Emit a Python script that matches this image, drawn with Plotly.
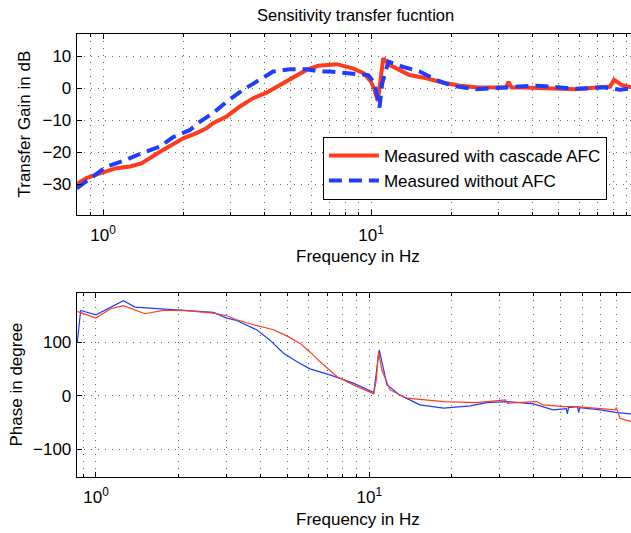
import numpy as np
import plotly.graph_objects as go

# ---- magnitude data (dB) ----
gain_freq_cascade = [0.797, 0.867, 0.972, 1.12, 1.26, 1.39, 1.63, 1.99, 2.23, 2.43, 2.57, 2.89,
                     3.24, 3.63, 4.07, 4.56, 5.12, 5.74, 6.35, 7.43, 8.56, 9.4, 10.0, 10.3, 10.6,
                     10.85, 11.1, 11.7, 13.9, 16.1, 18.6, 21.5, 24.6, 29.4, 31.8, 32.6, 33.4, 36.8,
                     45.0, 58.0, 71.4, 78.0, 80.7, 86.0, 93.5]
gain_cascade = [-29.9, -28.0, -26.5, -24.9, -24.4, -23.4, -19.8, -15.6, -14.0, -12.5, -10.9, -8.8,
                -5.7, -3.1, -1.4, 1.0, 3.6, 5.7, 7.0, 7.5, 6.2, 4.6, 2.0, -0.5, -4.0,
                2.0, 9.3, 7.3, 4.1, 3.1, 1.7, 0.8, 0.3, 0.2, 0.2, 2.0, 0.2, 0.2,
                0.0, -0.3, 0.3, 0.5, 2.6, 1.0, 0.3]

gain_freq_noafc = [0.797, 0.918, 1.03, 1.22, 1.37, 1.63, 1.82, 2.11, 2.3, 2.57, 2.89, 3.33, 3.74,
                   4.31, 4.97, 5.74, 6.43, 7.0, 8.56, 9.75, 10.3, 10.75, 11.0, 11.6, 13.1, 15.2,
                   17.5, 20.2, 24.6, 29.4, 36.8, 41.4, 46.5, 58.2, 65.0, 73.5, 85.0, 93.5]
gain_noafc = [-31.2, -27.5, -24.4, -22.3, -20.5, -18.2, -15.3, -13.0, -10.4, -7.8, -4.2, -0.5, 2.1,
              5.2, 5.9, 5.9, 5.2, 5.2, 4.5, 4.1, 1.6, -6.0, 1.5, 8.3, 6.7, 5.2,
              2.6, 0.7, -0.3, 0.0, 0.3, 0.8, 0.5, -0.2, 0.0, 0.3, -0.5, 0.0]

# ---- phase data (degree) ----
phase_freq_cascade = [0.854, 1.0, 1.125, 1.26, 1.51, 1.76, 2.09, 2.69, 3.01, 3.27, 3.66, 3.98,
                      4.46, 4.99, 5.58, 6.06, 6.59, 7.6, 8.74, 10.38, 10.6, 10.8, 11.1, 11.9,
                      13.7, 18.7, 24.6, 31.5, 32.0, 34.7, 40.9, 43.2, 51.3, 57.4, 70.0, 79.4,
                      80.0, 82.6, 90.6]
phase_cascade = [157.7, 145.3, 162.2, 168.4, 153.4, 159.6, 159.6, 154.7, 149.6, 142.1, 134.6, 129.6,
                 123.4, 112.0, 98.0, 82.0, 64.0, 36.0, 20.4, 3.6, 30.0, 82.8, 48.5, 11.0,
                 -4.5, -10.8, -12.7, -7.7, -14.0, -12.7, -10.8, -17.0, -20.2, -20.2, -23.2, -26.4,
                 -22.0, -42.0, -48.3]

phase_freq_noafc = [0.854, 0.879, 1.0, 1.26, 1.39, 1.81, 2.09, 2.69, 3.01, 3.27, 3.87, 4.33, 4.84,
                    5.42, 6.06, 6.59, 7.17, 8.74, 10.38, 10.87, 11.6, 12.9, 15.3, 18.7, 23.4,
                    26.9, 31.8, 39.9, 47.0, 52.5, 53.0, 53.5, 57.8, 58.3, 58.8, 70.0, 80.5, 90.6]
phase_noafc = [99.6, 159.6, 151.5, 177.7, 165.9, 162.2, 159.6, 155.8, 145.3, 140.8, 123.4, 104.0, 80.0,
               64.0, 50.4, 45.3, 39.1, 23.6, 6.0, 86.0, 20.4, 1.7, -17.0, -23.2, -18.9,
               -12.7, -10.8, -15.2, -26.4, -24.0, -33.9, -22.0, -20.2, -31.4, -22.0, -26.4, -31.4, -33.9]

# ---- axis ticks ----
decade_ticks = [1, 10]
decade_labels = ["10<sup>0</sup>", "10<sup>1</sup>"]
minor_ticks = [0.8, 0.9] + [m * 10 ** e for e in (0, 1) for m in range(2, 10)]
gain_ticks = [-30, -20, -10, 0, 10]
phase_ticks = [-100, 0, 100]

RED = "#ff3b1e"
BLUE = "#1f3dff"
FONT = "Liberation Sans, Arial, Helvetica, sans-serif"
W, H = 631, 533

fig = go.Figure()
fig.add_trace(go.Scatter(x=gain_freq_cascade, y=gain_cascade, mode="lines",
                         line=dict(color=RED, width=4), name="Measured with cascade AFC",
                         xaxis="x", yaxis="y"))
fig.add_trace(go.Scatter(x=gain_freq_noafc, y=gain_noafc, mode="lines",
                         line=dict(color=BLUE, width=4, dash="13px,7px"),
                         name="Measured without AFC", xaxis="x", yaxis="y"))
fig.add_trace(go.Scatter(x=phase_freq_noafc, y=phase_noafc, mode="lines",
                         line=dict(color=BLUE, width=1.2), showlegend=False,
                         xaxis="x2", yaxis="y2"))
fig.add_trace(go.Scatter(x=phase_freq_cascade, y=phase_cascade, mode="lines",
                         line=dict(color=RED, width=1.2), showlegend=False,
                         xaxis="x2", yaxis="y2"))

GRIDCOL = "rgba(0,0,0,0.6)"
GRIDDASH = "1px,6px"
xcommon = dict(type="log", tickmode="array", tickvals=decade_ticks, ticktext=decade_labels,
               ticks="inside", ticklen=5, tickcolor="black", showline=True, linecolor="black",
               linewidth=1, mirror="allticks", zeroline=False, automargin=False,
               showgrid=True, gridcolor=GRIDCOL, gridwidth=1, griddash=GRIDDASH,
               minor=dict(tickmode="array", tickvals=minor_ticks, ticks="inside", ticklen=3,
                          tickcolor="black", showgrid=True, gridcolor=GRIDCOL, gridwidth=1,
                          griddash=GRIDDASH),
               tickfont=dict(family=FONT, size=17, color="black"), ticklabelstandoff=5)
ycommon = dict(tickmode="array", ticks="inside", ticklen=5, tickcolor="black", showline=True,
               linecolor="black", linewidth=1, mirror=False, zeroline=False, automargin=False,
               showgrid=True, gridcolor=GRIDCOL, gridwidth=1, griddash=GRIDDASH,
               tickfont=dict(family=FONT, size=17, color="black"), ticklabelstandoff=1)

x0 = 76.7 / W
fig.update_layout(
    width=W, height=H, margin=dict(l=0, r=0, t=0, b=0),
    paper_bgcolor="white", plot_bgcolor="white",
    font=dict(family=FONT, size=17, color="black"),
    xaxis=dict(domain=[x0, 1], range=[np.log10(0.797), np.log10(93.3)], anchor="y", **xcommon),
    yaxis=dict(domain=[1 - 215 / H, 1 - 34.3 / H], range=[-39.5, 16.8], tickvals=gain_ticks,
               anchor="x", **ycommon),
    xaxis2=dict(domain=[x0, 1], range=[np.log10(0.85), np.log10(90.6)], anchor="y2", **xcommon),
    yaxis2=dict(domain=[1 - 476.7 / H, 1 - 292.7 / H], range=[-151.2, 192.7],
                tickvals=phase_ticks, anchor="x2", **ycommon),
    legend=dict(x=322.7 / W, y=1 - 136.7 / H, xanchor="left", yanchor="top",
                bgcolor="white", bordercolor="black", borderwidth=1.2,
                font=dict(family=FONT, size=17, color="black"), itemwidth=50,
                tracegroupgap=0),
    showlegend=True,
)

labels = [
    dict(text="Sensitivity transfer fucntion", x=355.5, y=15, angle=0, size=16.5),
    dict(text="Transfer Gain in dB", x=24, y=124.5, angle=-90, size=17),
    dict(text="Frequency in Hz", x=358.3, y=256, angle=0, size=17),
    dict(text="Phase in degree", x=16, y=384.5, angle=-90, size=17),
    dict(text="Frequency in Hz", x=358.3, y=519, angle=0, size=17),
]
for lb in labels:
    fig.add_annotation(text=lb["text"], x=lb["x"] / W, y=1 - lb["y"] / H, xref="paper",
                       yref="paper", xanchor="center", yanchor="middle", showarrow=False,
                       textangle=lb["angle"], font=dict(family=FONT, size=lb["size"], color="black"))

fig.write_html("out.html")
